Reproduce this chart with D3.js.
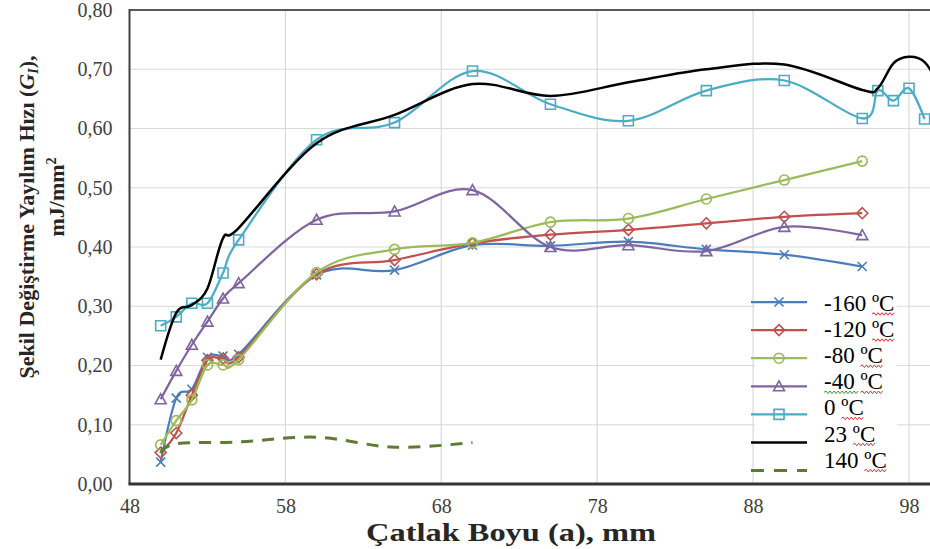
<!DOCTYPE html>
<html>
<head>
<meta charset="utf-8">
<script src="https://cdn.jsdelivr.net/npm/d3@7"></script>
<style>
  body { margin: 0; background: #fff; }
  svg { display: block; }
</style>
</head>
<body>
<svg id="chart" width="930" height="549"></svg>
<script>
// crack length (mm) for the marker series
var crackX = [50, 51, 52, 53, 54, 55, 60, 65, 70, 75, 80, 85, 90, 95];
var gMinus160 = [0.037, 0.145, 0.160, 0.214, 0.216, 0.219, 0.353, 0.361, 0.403, 0.402, 0.409, 0.396, 0.387, 0.367];
var gMinus120 = [0.053, 0.086, 0.150, 0.209, 0.212, 0.214, 0.354, 0.378, 0.406, 0.421, 0.429, 0.440, 0.451, 0.457];
var gMinus80  = [0.066, 0.107, 0.142, 0.201, 0.201, 0.210, 0.357, 0.396, 0.407, 0.442, 0.448, 0.481, 0.513, 0.545];
var gMinus40  = [0.143, 0.191, 0.235, 0.274, 0.313, 0.339, 0.446, 0.460, 0.496, 0.400, 0.403, 0.393, 0.434, 0.420];

var crackX0 = [50, 51, 52, 53, 54, 55, 60, 65, 70, 75, 80, 85, 90, 95, 96, 97, 98, 99];
var g0      = [0.267, 0.282, 0.305, 0.305, 0.356, 0.412, 0.581, 0.610, 0.697, 0.641, 0.613, 0.664, 0.681, 0.617, 0.664, 0.647, 0.668, 0.616];

var crackX23 = [50, 51, 52, 53, 54, 55, 60, 65, 70, 75, 80, 85, 90, 95, 96, 97, 98, 99, 100];
var g23      = [0.210, 0.289, 0.302, 0.330, 0.415, 0.432, 0.575, 0.623, 0.675, 0.655, 0.678, 0.700, 0.708, 0.665, 0.668, 0.710, 0.721, 0.712, 0.670];

var crackX140 = [50, 51, 55, 60, 65, 70];
var g140      = [0.052, 0.068, 0.071, 0.079, 0.062, 0.070];

var legendLabels = ['-160 ºC', '-120 ºC', '-80 ºC', '-40 ºC', '0 ºC', '23 ºC', '140 ºC'];
var xTicks = [48, 58, 68, 78, 88, 98];
var yTicks = [0, 0.1, 0.2, 0.3, 0.4, 0.5, 0.6, 0.7, 0.8];

var zip = function(xs, ys) { return xs.map(function(x, i) { return { x: x, y: ys[i] }; }); };

var series = [
  { label: legendLabels[0], color: '#4A7EBB', marker: 'x',        dash: null, width: 2.25, data: zip(crackX, gMinus160) },
  { label: legendLabels[1], color: '#C0504D', marker: 'diamond',  dash: null, width: 2.25, data: zip(crackX, gMinus120) },
  { label: legendLabels[2], color: '#9BBB59', marker: 'circle',   dash: null, width: 2.25, data: zip(crackX, gMinus80) },
  { label: legendLabels[3], color: '#8064A2', marker: 'triangle', dash: null, width: 2.25, data: zip(crackX, gMinus40) },
  { label: legendLabels[4], color: '#4BACC6', marker: 'square',   dash: null, width: 2.25, data: zip(crackX0, g0) },
  { label: legendLabels[5], color: '#000000', marker: null,       dash: null, width: 2.5,  data: zip(crackX23, g23) },
  { label: legendLabels[6], color: '#5E7B33', marker: null,       dash: '12,9', width: 3,  data: zip(crackX140, g140) }
];

var svg = d3.select('#chart');
var serif = '"Liberation Serif", "Times New Roman", serif';

var xScale = d3.scaleLinear().domain([48, 100]).range([129.5, 940.2]);
var yScale = d3.scaleLinear().domain([0, 0.8]).range([484, 10]);
var plotRight = 930;

// gridlines
svg.append('g')
  .selectAll('line')
  .data(yTicks.slice(1, -1))
  .join('line')
    .attr('x1', xScale(48)).attr('x2', plotRight)
    .attr('y1', function(d) { return yScale(d); })
    .attr('y2', function(d) { return yScale(d); })
    .attr('stroke', '#D9D9D9').attr('stroke-width', 1.2);

svg.append('g')
  .selectAll('line')
  .data(xTicks.slice(1))
  .join('line')
    .attr('x1', function(d) { return xScale(d); })
    .attr('x2', function(d) { return xScale(d); })
    .attr('y1', yScale(0.8)).attr('y2', yScale(0))
    .attr('stroke', '#D9D9D9').attr('stroke-width', 1.2);

// axes
var yAxis = svg.append('g')
  .attr('transform', 'translate(' + xScale(48) + ',0)')
  .call(d3.axisLeft(yScale).tickValues(yTicks).tickSize(0).tickPadding(17)
    .tickFormat(function(d) { return d.toFixed(2).replace('.', ','); }));
yAxis.select('.domain').remove();

var xAxis = svg.append('g')
  .attr('transform', 'translate(0,' + yScale(0) + ')')
  .call(d3.axisBottom(xScale).tickValues(xTicks).tickSize(0).tickPadding(15));
xAxis.select('.domain').remove();

svg.selectAll('.tick text')
  .attr('font-family', serif)
  .attr('font-size', 20)
  .attr('fill', '#404040');

// frame
svg.append('line')
  .attr('x1', xScale(48)).attr('x2', plotRight)
  .attr('y1', yScale(0.8)).attr('y2', yScale(0.8))
  .attr('stroke', '#595959').attr('stroke-width', 2);
svg.append('line')
  .attr('x1', xScale(48)).attr('x2', xScale(48))
  .attr('y1', yScale(0.8) - 1).attr('y2', yScale(0))
  .attr('stroke', '#404040').attr('stroke-width', 2);

// series
svg.append('clipPath').attr('id', 'plotclip')
  .append('rect')
    .attr('x', xScale(48)).attr('y', 0)
    .attr('width', plotRight - xScale(48)).attr('height', yScale(0));

var line = d3.line()
  .x(function(d) { return xScale(d.x); })
  .y(function(d) { return yScale(d.y); })
  .curve(d3.curveCardinal.tension(0));

var markerPath = function(type) {
  switch (type) {
    case 'x':        return 'M-4.5,-4.5L4.5,4.5M-4.5,4.5L4.5,-4.5';
    case 'diamond':  return 'M0,-5.5L5.5,0L0,5.5L-5.5,0Z';
    case 'circle':   return 'M5,0A5,5 0 1,1 -5,0A5,5 0 1,1 5,0Z';
    case 'triangle': return 'M0,-5.5L5.5,4.5L-5.5,4.5Z';
    case 'square':   return 'M-5,-5H5V5H-5Z';
  }
  return '';
};

var plot = svg.append('g').attr('clip-path', 'url(#plotclip)');

series.forEach(function(s) {
  plot.append('path')
    .datum(s.data)
    .attr('d', line)
    .attr('fill', 'none')
    .attr('stroke', s.color)
    .attr('stroke-width', s.width)
    .attr('stroke-dasharray', s.dash)
    .attr('stroke-linejoin', 'round');
  if (s.marker) {
    plot.append('g')
      .selectAll('path')
      .data(s.data)
      .join('path')
        .attr('transform', function(d) { return 'translate(' + xScale(d.x) + ',' + yScale(d.y) + ')'; })
        .attr('d', markerPath(s.marker))
        .attr('fill', 'none')
        .attr('stroke', s.color)
        .attr('stroke-width', 1.6);
  }
});

// bottom axis line (drawn over the series)
svg.append('line')
  .attr('x1', xScale(48) - 1).attr('x2', plotRight)
  .attr('y1', yScale(0)).attr('y2', yScale(0))
  .attr('stroke', '#333').attr('stroke-width', 3);

// legend
var legend = svg.append('g');
legend.append('rect')
  .attr('x', 755).attr('y', 287)
  .attr('width', 142).attr('height', 192)
  .attr('fill', '#fff');

var wavy = function(x0, x1, y) {
  var p = 'M' + x0 + ',' + y, up = true;
  for (var x = x0 + 2; x <= x1; x += 2) { p += 'L' + x + ',' + (y + (up ? -1.3 : 1.3)); up = !up; }
  return p;
};

series.forEach(function(s, i) {
  var sy = 302 + i * 28.1, ty = 303 + i * 26.1;
  legend.append('line')
    .attr('x1', 751).attr('x2', 807)
    .attr('y1', sy).attr('y2', sy)
    .attr('stroke', s.color)
    .attr('stroke-width', s.width)
    .attr('stroke-dasharray', s.dash ? '13,10' : null);
  if (s.marker) {
    legend.append('path')
      .attr('transform', 'translate(779,' + sy + ')')
      .attr('d', markerPath(s.marker))
      .attr('fill', 'none')
      .attr('stroke', s.color)
      .attr('stroke-width', 1.6);
  }
  var t = legend.append('text')
    .attr('x', 824).attr('y', ty)
    .attr('dy', '0.35em')
    .attr('font-family', serif)
    .attr('font-size', 23)
    .attr('fill', '#000')
    .text(s.label);
  // spell-check squiggles as in the source picture
  var node = t.node(), n = s.label.length;
  var cStart = 824 + node.getSubStringLength(0, n - 2);
  var end = 824 + node.getComputedTextLength();
  legend.append('path').attr('d', wavy(cStart, end, ty + 11))
    .attr('fill', 'none').attr('stroke', '#E03030').attr('stroke-width', 1);
  if (s.label === '-40 ºC') {
    legend.append('path').attr('d', wavy(824, cStart - 2, ty + 11))
      .attr('fill', 'none').attr('stroke', '#3A9A3A').attr('stroke-width', 1);
  }
});

// axis titles
svg.append('text')
  .attr('x', 511).attr('y', 541)
  .attr('text-anchor', 'middle')
  .attr('font-family', serif)
  .attr('font-weight', 'bold')
  .attr('font-size', 25)
  .attr('textLength', 290)
  .attr('lengthAdjust', 'spacingAndGlyphs')
  .attr('fill', '#262626')
  .text('Çatlak Boyu (a), mm');

var yt = svg.append('text')
  .attr('transform', 'translate(34,217) rotate(-90)')
  .attr('text-anchor', 'middle')
  .attr('font-family', serif)
  .attr('font-weight', 'bold')
  .attr('font-size', 22)
  .attr('fill', '#262626');
yt.append('tspan').text('Şekil Değiştirme Yayılım Hızı (');
yt.append('tspan').attr('font-style', 'italic').text('G');
yt.append('tspan').attr('font-size', 14).attr('dy', 4).attr('font-style', 'italic').text('I');
yt.append('tspan').attr('dy', -4).text('),');

var yt2 = svg.append('text')
  .attr('transform', 'translate(64,197) rotate(-90)')
  .attr('text-anchor', 'middle')
  .attr('font-family', serif)
  .attr('font-weight', 'bold')
  .attr('font-size', 22)
  .attr('fill', '#262626');
yt2.append('tspan').text('mJ/mm');
yt2.append('tspan').attr('font-size', 14).attr('dy', -8).text('2');
</script>
</body>
</html>
